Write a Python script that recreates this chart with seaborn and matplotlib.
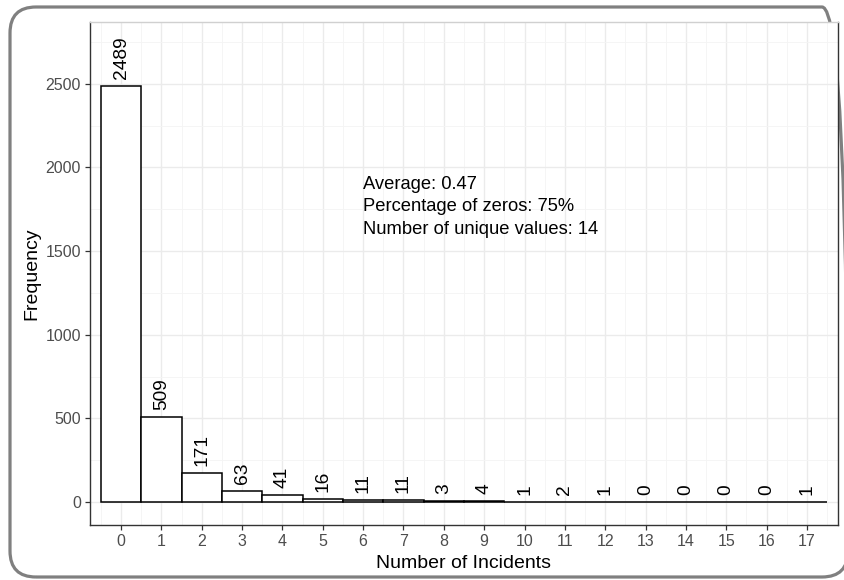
import numpy as np
import pandas as pd

import matplotlib
matplotlib.use('AGG')
import matplotlib.pyplot as plt
from matplotlib.patches import FancyBboxPatch
from matplotlib.ticker import MultipleLocator
import seaborn as sns

sns.set_theme(style="white")
plt.rcParams['font.family'] = ['Liberation Sans', 'DejaVu Sans']

# data
incidents = list(range(18))
counts = [2489, 509, 171, 63, 41, 16, 11, 11, 3, 4, 1, 2, 1, 0, 0, 0, 0, 1]
stats_lines = ["Average: 0.47",
               "Percentage of zeros: 75%",
               "Number of unique values: 14"]

df = pd.DataFrame({'incidents': incidents, 'count': counts})

W, H = 845, 580
fig = plt.figure(figsize=(W / 100, H / 100), dpi=100)

# rounded outer frame, drawn in a pixel-space axes behind everything
bg = fig.add_axes([0, 0, 1, 1], zorder=-1)
bg.set_xlim(0, W)
bg.set_ylim(0, H)
bg.axis('off')
bg.add_patch(FancyBboxPatch((10, 3), 838, 570, boxstyle="round,pad=0,rounding_size=26",
                            facecolor='none', edgecolor='#808080', linewidth=2.3,
                            clip_on=True))

ax = fig.add_axes([90 / W, 1 - 525 / H, (838 - 90) / W, (525 - 22) / H])

sns.barplot(data=df, x='incidents', y='count', native_scale=True, width=1,
            color='white', saturation=1, edgecolor='black', linewidth=1.1,
            ax=ax, zorder=3)

# count labels above bars
for x, c in zip(incidents, counts):
    ax.annotate(str(c), (x, c), xytext=(0, 5), textcoords='offset points',
                rotation=90, ha='center', va='bottom', fontsize=13.8,
                color='black', zorder=4)

ax.text(6, 1764, "\n".join(stats_lines), ha='left', va='center',
        fontsize=13.2, linespacing=1.45, color='black', zorder=4)

ax.set_xlim(-0.77, 17.77)
ax.set_ylim(-138, 2870)
ax.set_xticks(incidents)
ax.xaxis.set_minor_locator(MultipleLocator(0.5))
ax.yaxis.set_major_locator(MultipleLocator(500))
ax.yaxis.set_minor_locator(MultipleLocator(250))

ax.grid(which='major', color='#EBEBEB', linewidth=1.0, zorder=0)
ax.grid(which='minor', color='#F4F4F4', linewidth=0.6, zorder=0)
ax.set_axisbelow(True)

ax.tick_params(axis='both', which='major', length=3.5, width=0.9,
               color='#333333', labelcolor='#4D4D4D', labelsize=11.5,
               bottom=True, left=True, pad=3)
ax.tick_params(axis='both', which='minor', length=0)

for side in ['left', 'bottom', 'right']:
    ax.spines[side].set_color('#333333')
    ax.spines[side].set_linewidth(1.0)
ax.spines['top'].set_color('#D0D0D0')
ax.spines['top'].set_linewidth(1.0)

ax.set_xlabel('Number of Incidents', fontsize=14, color='black', labelpad=4)
ax.set_ylabel('Frequency', fontsize=14, color='black', labelpad=4)

fig.savefig('out.png', dpi=100)
